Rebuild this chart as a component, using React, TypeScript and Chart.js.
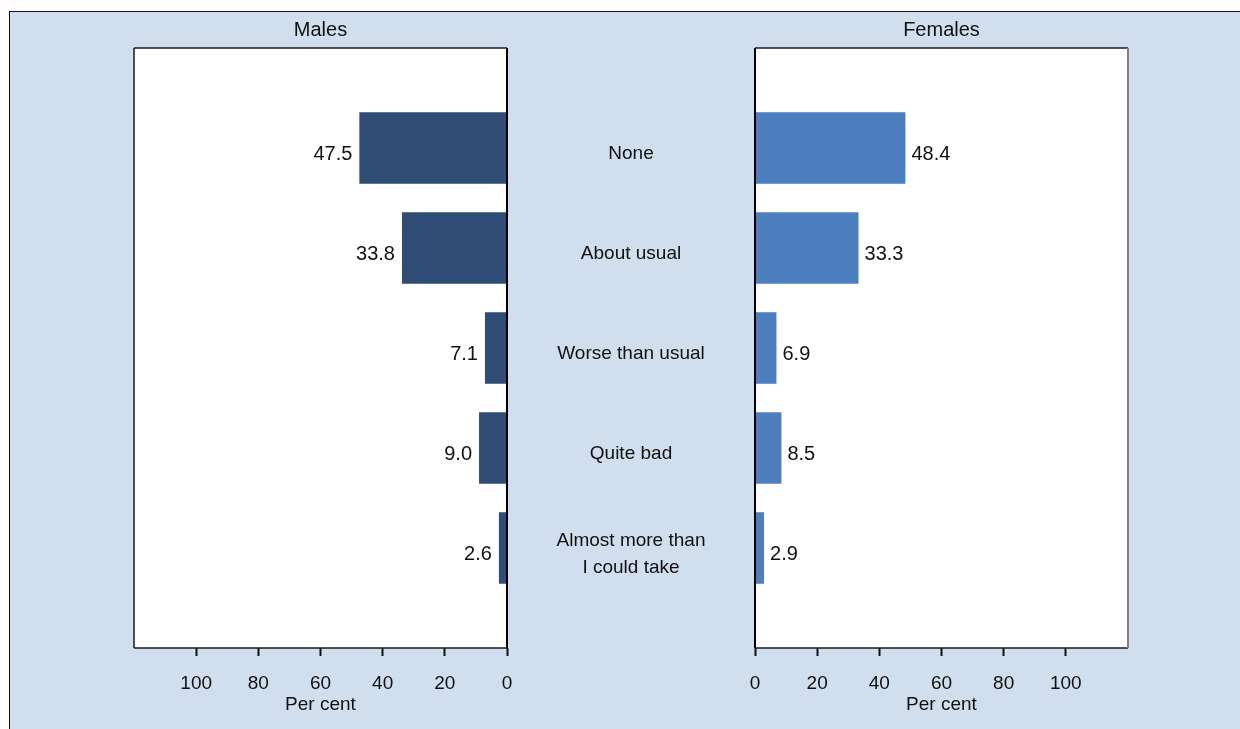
import React, { useEffect, useRef } from 'react';
import { Chart, registerables } from 'chart.js';

Chart.register(...registerables);

// ---- Data ----
const categories: (string | string[])[] = [
  'None',
  'About usual',
  'Worse than usual',
  'Quite bad',
  ['Almost more than', 'I could take'],
];
const malesValues = [47.5, 33.8, 7.1, 9.0, 2.6];
const femalesValues = [48.4, 33.3, 6.9, 8.5, 2.9];
const tickValues = [0, 20, 40, 60, 80, 100];
const axisMax = 120;
const panelTitles = ['Males', 'Females'];
const axisTitle = 'Per cent';

// ---- Styles ----
const FONT = '"Liberation Sans", Arial, sans-serif';
const BG = '#d0deed';
const MALE_COLOR = '#2e4c74';
const FEMALE_COLOR = '#4d7fbf';
const TEXT = '#111111';

type Side = 'left' | 'right';

function makePlugin(side: Side, title: string, drawCategories: boolean) {
  return {
    id: 'panel_' + side,
    beforeDatasetsDraw(chart: any) {
      const { ctx, chartArea: a } = chart;
      ctx.save();
      ctx.fillStyle = '#ffffff';
      ctx.fillRect(a.left, a.top, a.right - a.left, a.bottom - a.top);
      ctx.restore();
    },
    afterDatasetsDraw(chart: any) {
      const { ctx, chartArea: a } = chart;
      ctx.save();
      // plot border
      ctx.lineWidth = 1.5;
      ctx.strokeStyle = '#1a1a1a';
      ctx.beginPath();
      ctx.moveTo(a.left, a.top);
      ctx.lineTo(a.right, a.top);
      ctx.moveTo(a.left, a.bottom);
      ctx.lineTo(a.right, a.bottom);
      ctx.stroke();
      // outer side
      ctx.beginPath();
      ctx.strokeStyle = side === 'left' ? '#1a1a1a' : '#808080';
      ctx.lineWidth = side === 'left' ? 1.5 : 2;
      const outerX = side === 'left' ? a.left : a.right;
      ctx.moveTo(outerX, a.top);
      ctx.lineTo(outerX, a.bottom);
      ctx.stroke();
      // zero axis side
      ctx.beginPath();
      ctx.strokeStyle = '#000000';
      ctx.lineWidth = 2;
      const zeroX = chart.scales.x.getPixelForValue(0);
      ctx.moveTo(zeroX, a.top);
      ctx.lineTo(zeroX, a.bottom);
      ctx.stroke();

      // value labels
      const meta = chart.getDatasetMeta(0);
      const data = chart.data.datasets[0].data as (number | null)[];
      ctx.font = `20px ${FONT}`;
      ctx.fillStyle = TEXT;
      ctx.textBaseline = 'middle';
      ctx.textAlign = side === 'left' ? 'right' : 'left';
      meta.data.forEach((el: any, i: number) => {
        const v = data[i];
        if (v == null) return;
        const x = side === 'left' ? el.x - 7 : el.x + 6;
        ctx.fillText(v.toFixed(1), x, el.y + 6);
      });

      // panel title
      ctx.textAlign = 'center';
      ctx.font = `20px ${FONT}`;
      ctx.fillText(title, (a.left + a.right) / 2, a.top - 17.5);

      // category labels in the middle gap
      if (drawCategories) {
        const yScale = chart.scales.y;
        const cx = a.right + 124;
        ctx.font = `19px ${FONT}`;
        categories.forEach((cat, i) => {
          const lines = Array.isArray(cat) ? cat : [cat];
          const yc = yScale.getPixelForValue(i + 1) + 6;
          lines.forEach((ln, j) => {
            ctx.fillText(ln, cx, yc + (j - (lines.length - 1) / 2) * 27);
          });
        });
      }
      ctx.restore();
    },
  };
}

function buildChart(
  canvas: HTMLCanvasElement,
  values: number[],
  color: string,
  side: Side,
  title: string,
  padding: { left: number; right: number; top: number; bottom: number }
) {
  const labels = ['', ...categories.map((c) => (Array.isArray(c) ? c.join(' ') : c)), ''];
  const padded: (number | null)[] = [null, ...values, null];
  return new Chart(canvas, {
    type: 'bar',
    data: {
      labels,
      datasets: [
        {
          data: padded,
          backgroundColor: color,
          borderWidth: 0,
          barPercentage: 0.715,
          categoryPercentage: 1,
        },
      ],
    },
    options: {
      indexAxis: 'y',
      responsive: false,
      animation: false,
      devicePixelRatio: 1,
      layout: { padding },
      plugins: {
        legend: { display: false },
        tooltip: { enabled: false },
        title: { display: false },
      },
      scales: {
        x: {
          type: 'linear',
          min: 0,
          max: axisMax,
          reverse: side === 'left',
          afterBuildTicks: (s: any) => {
            s.ticks = tickValues.map((v) => ({ value: v }));
          },
          afterFit: (s: any) => {
            s.height = 81;
          },
          grid: {
            display: true,
            drawOnChartArea: false,
            drawTicks: true,
            tickLength: 8,
            tickWidth: 2,
            tickColor: '#111111',
          },
          border: { display: false },
          ticks: {
            font: { family: FONT, size: 19 },
            color: TEXT,
            padding: 16,
            maxRotation: 0,
            autoSkip: false,
          },
          title: {
            display: true,
            text: axisTitle,
            font: { family: FONT, size: 19 },
            color: TEXT,
            padding: { top: 0, bottom: 13 },
          },
        },
        y: {
          type: 'category',
          offset: false,
          display: false,
        },
      },
    },
    plugins: [makePlugin(side, title, side === 'left')],
  } as any);
}

export default function App() {
  const leftRef = useRef<HTMLCanvasElement>(null);
  const rightRef = useRef<HTMLCanvasElement>(null);

  useEffect(() => {
    const c1 = buildChart(leftRef.current!, malesValues, MALE_COLOR, 'left', panelTitles[0], {
      left: 34,
      right: 233,
      top: 36,
      bottom: 0,
    });
    const c2 = buildChart(rightRef.current!, femalesValues, FEMALE_COLOR, 'right', panelTitles[1], {
      left: 55,
      right: 52,
      top: 36,
      bottom: 0,
    });
    return () => {
      c1.destroy();
      c2.destroy();
    };
  }, []);

  return (
    <div
      style={{
        position: 'fixed',
        left: 0,
        top: 0,
        width: 1240,
        height: 729,
        overflow: 'hidden',
        background: '#ffffff',
      }}
    >
      <div
        style={{
          position: 'absolute',
          left: 9,
          top: 11,
          width: 1231,
          height: 718,
          background: BG,
          borderTop: '1.5px solid #111',
          borderLeft: '1.5px solid #111',
          boxSizing: 'border-box',
        }}
      />
      <canvas
        ref={leftRef}
        width={640}
        height={717}
        style={{ position: 'absolute', left: 100, top: 12, width: 640, height: 717 }}
      />
      <canvas
        ref={rightRef}
        width={480}
        height={717}
        style={{ position: 'absolute', left: 700, top: 12, width: 480, height: 717 }}
      />
    </div>
  );
}
